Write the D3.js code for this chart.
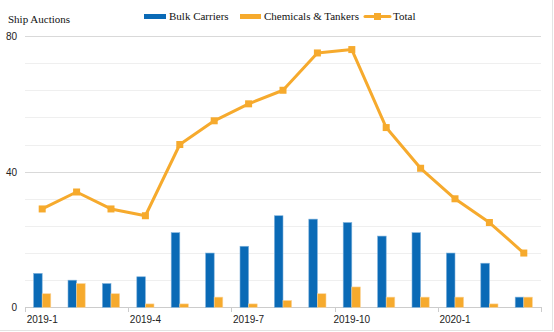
<!DOCTYPE html>
<html><head><meta charset="utf-8">
<script src="https://cdn.jsdelivr.net/npm/d3@7"></script>
<style>body{margin:0;background:#fff;}svg{display:block;}</style>
</head><body>
<svg id="c" width="554" height="332"></svg>
<script>
const categories = ["2019-1","2019-2","2019-3","2019-4","2019-5","2019-6","2019-7","2019-8","2019-9","2019-10","2019-11","2019-12","2020-1","2020-2","2020-3"];
const bulkCarriers = [10,8,7,9,22,16,18,27,26,25,21,22,16,13,3];
const chemTankers = [4,7,4,1,1,3,1,2,4,6,3,3,3,1,3];
const total = [29,34,29,27,48,55,60,64,75,76,53,41,32,25,16];
const xTickLabels = ["2019-1","2019-4","2019-7","2019-10","2020-1"];
const yTicks = [0,40,80];

(function(){
const svg = d3.select("#c");
const pl = 25, pr = 541, pt = 36, pb = 307.3;
const x = d3.scaleBand().domain(categories).range([pl, pr]);
const y = d3.scaleLinear().domain([0, 80]).range([pb, pt]);
const blue = "#0a6ab6", orange = "#f6aa2d";
const serif = "'Liberation Serif','Times New Roman',serif";
const sans = "'Liberation Sans',Arial,sans-serif";

// frame lines
svg.append("line").attr("x1",0).attr("x2",553).attr("y1",330.5).attr("y2",330.5).attr("stroke","#e3e3e3");
svg.append("line").attr("x1",552.5).attr("x2",552.5).attr("y1",0).attr("y2",331).attr("stroke","#e3e3e3");

// minor grid
const minor = d3.range(8, 80, 8).filter(v => v !== 40);
svg.append("g").selectAll("line").data(minor).join("line")
  .attr("x1", pl).attr("x2", pr)
  .attr("y1", d => Math.round(y(d)) + 0.5).attr("y2", d => Math.round(y(d)) + 0.5)
  .attr("stroke", "#efefef");
// major grid
svg.append("g").selectAll("line").data([40,80]).join("line")
  .attr("x1", pl).attr("x2", pr)
  .attr("y1", d => Math.round(y(d)) + 0.5).attr("y2", d => Math.round(y(d)) + 0.5)
  .attr("stroke", "#d9d9d9");

// y labels
svg.append("g").selectAll("text").data(yTicks).join("text")
  .attr("x", 17).attr("y", d => y(d) + 4)
  .attr("text-anchor", "end").attr("font-family", sans).attr("font-size", 10).attr("fill", "#222")
  .text(d => d);

// x axis
const xAxisG = svg.append("g");
xAxisG.append("line").attr("x1", pl).attr("x2", pr).attr("y1", Math.round(pb)+0.5).attr("y2", Math.round(pb)+0.5).attr("stroke", "#cccccc");
const tickIdx = d3.range(0, categories.length + 1, 3);
xAxisG.selectAll("line.t").data(tickIdx).join("line").attr("class","t")
  .attr("x1", i => Math.round(pl + i * x.step()) + 0.5).attr("x2", i => Math.round(pl + i * x.step()) + 0.5)
  .attr("y1", Math.round(pb)).attr("y2", Math.round(pb) + 5).attr("stroke", "#cccccc");
xAxisG.selectAll("text").data(xTickLabels).join("text")
  .attr("x", d => x(d) + x.bandwidth() / 2).attr("y", 323)
  .attr("text-anchor", "middle").attr("font-family", sans).attr("font-size", 10).attr("fill", "#222")
  .text(d => d);

// bars
const bw = x.bandwidth() * 0.25;
svg.append("g").selectAll("rect").data(categories).join("rect")
  .attr("x", (d) => x(d) + x.bandwidth()/2 - bw)
  .attr("y", (d, i) => y(bulkCarriers[i]))
  .attr("width", bw).attr("height", (d, i) => pb - y(bulkCarriers[i]))
  .attr("fill", blue).attr("stroke", "#7fb2dc").attr("stroke-width", 0.6);
svg.append("g").selectAll("rect").data(categories).join("rect")
  .attr("x", (d) => x(d) + x.bandwidth()/2)
  .attr("y", (d, i) => y(chemTankers[i]))
  .attr("width", bw).attr("height", (d, i) => pb - y(chemTankers[i]))
  .attr("fill", orange).attr("stroke", "#fbd49a").attr("stroke-width", 0.6);

// total line
const line = d3.line().x((d, i) => x(categories[i]) + x.bandwidth()/2).y(d => y(d));
svg.append("path").datum(total).attr("d", line)
  .attr("fill", "none").attr("stroke", orange).attr("stroke-width", 3).attr("stroke-linejoin", "round");
svg.append("g").selectAll("rect").data(total).join("rect")
  .attr("x", (d, i) => x(categories[i]) + x.bandwidth()/2 - 3.5)
  .attr("y", d => y(d) - 3.5).attr("width", 7).attr("height", 7).attr("fill", orange);

// title
svg.append("text").attr("x", 8).attr("y", 23).attr("font-family", serif).attr("font-size", 11).attr("fill", "#111").text("Ship Auctions");

// legend
const lg = svg.append("g").attr("font-family", serif).attr("font-size", 11).attr("fill", "#111");
lg.append("rect").attr("x", 144).attr("y", 14).attr("width", 22).attr("height", 5).attr("fill", blue);
lg.append("text").attr("x", 169).attr("y", 19.5).text("Bulk Carriers");
lg.append("rect").attr("x", 240).attr("y", 14).attr("width", 21).attr("height", 5).attr("fill", orange);
lg.append("text").attr("x", 264).attr("y", 19.5).text("Chemicals & Tankers");
lg.append("line").attr("x1", 365).attr("x2", 390).attr("y1", 16.5).attr("y2", 16.5).attr("stroke", orange).attr("stroke-width", 3).attr("stroke-linecap","round");
lg.append("rect").attr("x", 374).attr("y", 13).attr("width", 7).attr("height", 7).attr("fill", orange);
lg.append("text").attr("x", 393).attr("y", 19.5).text("Total");
})();
</script>
</body></html>
